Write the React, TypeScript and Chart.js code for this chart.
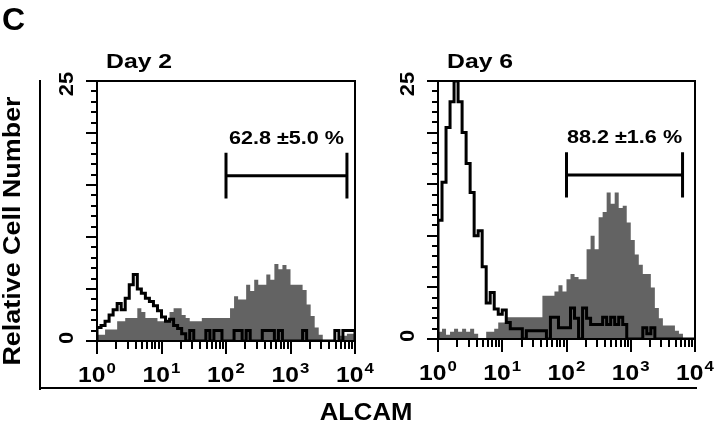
import React, { useEffect, useRef } from "react";
import { Chart, registerables } from "chart.js";

Chart.register(...registerables);

// ---- axis definitions ----
const X_MIN = 1;
const X_MAX = 10000;
const Y_MIN = 0;
const Y_MAX = 25;
const BINS_PER_DECADE = 16;
const DECADE_VALUES = [1, 10, 100, 1000, 10000];
const DECADE_EXPONENTS = ["0", "1", "2", "3", "4"];
const Y_LABELED_TICKS = [0, 25];

// ---- panel titles / gate annotations ----
const PANEL_TITLES = ["Day 2", "Day 6"];
const DAY2_GATE = [100, 7500];
const DAY6_GATE = [100, 6400];
const GATE_LEVEL = 15.9;
const GATE_HALF_HEIGHT = 2.2;
const DAY2_GATE_LABEL = "62.8 \u00b15.0 %";
const DAY6_GATE_LABEL = "88.2 \u00b11.6 %";

// ---- histogram values (64 channels, 16 per decade) ----
const DAY2_ALCAM = [
  0.5, 0.6, 0.6, 1.1, 1.1, 1.1, 1.9, 1.9, 2.2, 2.2,
  2.2, 3.15, 2.8, 2.2, 2.2, 2.2, 1.9, 1.9, 1.9, 2.8,
  3.15, 3.15, 2.5, 2.2, 1.9, 1.9, 1.9, 2.2, 2.2, 2.2,
  2.2, 2.2, 2.2, 2.2, 3.15, 4.3, 4.0, 4.0, 5.4, 4.8,
  5.9, 5.4, 5.4, 6.4, 5.9, 7.4, 6.9, 7.3, 6.9, 5.4,
  5.4, 5.4, 4.9, 3.5, 2.4, 1.3, 0.6, 0, 0, 0,
  0, 0.5, 0.5, 0.7,
];
const DAY2_CONTROL = [
  0.8, 1.3, 1.5, 1.9, 2.5, 3.0, 3.6, 3.0, 4.1, 5.4,
  6.4, 5.0, 4.6, 4.1, 3.8, 3.4, 2.9, 2.3, 1.9, 2.1,
  1.5, 1.2, 0.7, 0, 1.0, 0, 0, 0, 1.0, 0,
  1.0, 1.0, 0, 0, 0, 1.0, 1.0, 0, 1.0, 0,
  0, 0, 1.0, 1.0, 1.0, 0, 1.0, 0, 0, 0,
  0, 0, 1.0, 0, 0, 0, 0, 0, 0, 0,
  1.0, 0, 1.0, 1.0,
];
const DAY6_ALCAM = [
  0, 0.7, 1.0, 0.4, 0.7, 1.0, 0.7, 1.0, 0.7, 1.0,
  0.5, 0, 0, 0.7, 0.7, 1.0, 1.6, 1.6, 2.1, 2.1,
  2.1, 2.1, 2.1, 2.1, 2.1, 2.1, 2.1, 4.2, 4.2, 4.2,
  4.6, 5.2, 4.6, 5.8, 6.3, 6.0, 5.8, 5.8, 8.7, 10.0,
  8.7, 11.8, 12.3, 14.2, 13.1, 14.2, 12.7, 12.9, 11.3, 9.6,
  8.2, 7.2, 6.3, 6.3, 5.0, 3.0, 2.0, 1.3, 1.3, 1.3,
  0.8, 0.5, 0, 0,
];
const DAY6_CONTROL = [
  8.8, 11.5, 15.2, 20.5, 23.0, 25.0, 23.0, 20.0, 17.0, 14.2,
  10.0, 10.5, 7.0, 3.5, 4.5, 2.9, 2.4, 2.8, 1.6, 1.0,
  1.0, 1.0, 0, 0.8, 0.8, 0.8, 0.8, 0.8, 0, 2.1,
  2.1, 1.1, 1.1, 1.1, 3.0, 2.0, 0, 3.0, 2.0, 1.4,
  1.4, 1.4, 2.1, 1.4, 2.1, 1.4, 2.1, 1.4, 0, 0,
  0, 0, 1.1, 0.5, 1.1, 0, 0, 0, 0, 0,
  0, 0, 0, 0,
];

const GRAY = "#636363";
const FONT = '"Liberation Sans", Arial, Helvetica, sans-serif';

const binEdge = (i: number) => Math.pow(10, i / BINS_PER_DECADE);

function toSteps(values: number[]) {
  const n = values.length;
  const pts = [{ x: binEdge(0), y: 0 }];
  values.forEach((v, i) => pts.push({ x: binEdge(i), y: v }));
  pts.push({ x: binEdge(n), y: values[n - 1] });
  pts.push({ x: binEdge(n), y: 0 });
  return pts;
}

function stretchedText(
  ctx: CanvasRenderingContext2D,
  text: string,
  x: number,
  y: number,
  size: number,
  stretch: number,
  align: CanvasTextAlign,
  rotate = 0,
  baseline: CanvasTextBaseline = "alphabetic"
) {
  ctx.save();
  ctx.translate(x, y);
  if (rotate) ctx.rotate(rotate);
  ctx.scale(stretch, 1);
  ctx.font = `bold ${size}px ${FONT}`;
  ctx.textAlign = align;
  ctx.textBaseline = baseline;
  ctx.fillStyle = "#000";
  ctx.fillText(text, 0, 0);
  ctx.restore();
}

function panelPlugin(title: string, gate: number[], gateLabel: string) {
  return {
    id: "panelDecor",
    afterDatasetsDraw(chart: any) {
      const ctx: CanvasRenderingContext2D = chart.ctx;
      const { left, right, top, bottom } = chart.chartArea;
      const xs = chart.scales.x;
      const ys = chart.scales.y;
      ctx.save();
      ctx.strokeStyle = "#000";
      ctx.lineWidth = 2;
      ctx.lineCap = "butt";
      // frame
      ctx.strokeRect(left, top, right - left, bottom - top);
      // y ticks
      for (let v = Y_MIN; v <= Y_MAX; v++) {
        const py = Math.round(ys.getPixelForValue(v));
        const len = v % 5 === 0 ? 11 : 6;
        ctx.beginPath();
        ctx.moveTo(left, py);
        ctx.lineTo(left - len, py);
        ctx.stroke();
      }
      // x ticks
      for (let d = 0; d < DECADE_VALUES.length; d++) {
        const base = DECADE_VALUES[d];
        const mults = d === DECADE_VALUES.length - 1 ? [1] : [1, 2, 3, 4, 5, 6, 7, 8, 9];
        for (const m of mults) {
          const px = Math.round(xs.getPixelForValue(base * m));
          const len = m === 1 ? 13 : 8;
          ctx.beginPath();
          ctx.moveTo(px, bottom);
          ctx.lineTo(px, bottom + len);
          ctx.stroke();
        }
      }
      // x tick labels: 10^n
      DECADE_VALUES.forEach((val, i) => {
        const px = xs.getPixelForValue(val);
        const s = 1.12;
        ctx.font = `bold 22px ${FONT}`;
        const w1 = ctx.measureText("10").width * s;
        ctx.font = `bold 15px ${FONT}`;
        const w2 = ctx.measureText(DECADE_EXPONENTS[i]).width * s;
        const total = w1 + 1 + w2;
        const x0 = px - total / 2;
        stretchedText(ctx, "10", x0, bottom + 41, 22, s, "left");
        stretchedText(ctx, DECADE_EXPONENTS[i], x0 + w1 + 1, bottom + 32, 15, s, "left");
      });
      // y tick labels (rotated)
      Y_LABELED_TICKS.forEach((v) => {
        const py = ys.getPixelForValue(v) + (v === Y_MAX ? 3 : -3);
        stretchedText(ctx, String(v), left - 30, py, 20, 1.1, "center", -Math.PI / 2, "middle");
      });
      // title
      stretchedText(ctx, title, left + 9, top - 13, 21, 1.18, "left");
      // gate bracket
      const gx1 = xs.getPixelForValue(gate[0]);
      const gx2 = xs.getPixelForValue(gate[1]);
      const gy = ys.getPixelForValue(GATE_LEVEL);
      const gTop = ys.getPixelForValue(GATE_LEVEL + GATE_HALF_HEIGHT);
      const gBot = ys.getPixelForValue(GATE_LEVEL - GATE_HALF_HEIGHT);
      ctx.lineWidth = 3;
      ctx.beginPath();
      ctx.moveTo(gx1, gTop);
      ctx.lineTo(gx1, gBot);
      ctx.moveTo(gx2, gTop);
      ctx.lineTo(gx2, gBot);
      ctx.moveTo(gx1, gy);
      ctx.lineTo(gx2, gy);
      ctx.stroke();
      stretchedText(ctx, gateLabel, (gx1 + gx2) / 2, gTop - 9, 18, 1.2, "center");
      ctx.restore();
    },
  };
}

function makeChart(
  canvas: HTMLCanvasElement,
  alcam: number[],
  control: number[],
  padding: { left: number; right: number; top: number; bottom: number },
  title: string,
  gate: number[],
  gateLabel: string
) {
  return new Chart(canvas, {
    type: "line",
    data: {
      datasets: [
        {
          label: "ALCAM",
          data: toSteps(alcam),
          stepped: "after",
          fill: "origin",
          backgroundColor: GRAY,
          borderColor: "rgba(0,0,0,0)",
          borderWidth: 0,
          pointRadius: 0,
          order: 2,
        },
        {
          label: "Control",
          data: toSteps(control),
          stepped: "after",
          fill: false,
          borderColor: "#000",
          borderWidth: 3,
          borderJoinStyle: "miter",
          pointRadius: 0,
          order: 1,
        },
      ],
    } as any,
    options: {
      animation: false,
      responsive: false,
      devicePixelRatio: 1,
      events: [],
      layout: { padding },
      scales: {
        x: { type: "logarithmic", min: X_MIN, max: X_MAX, display: false },
        y: { type: "linear", min: Y_MIN, max: Y_MAX, display: false },
      },
      plugins: { legend: { display: false }, tooltip: { enabled: false } },
    } as any,
    plugins: [panelPlugin(title, gate, gateLabel)],
  });
}

export default function App() {
  const leftRef = useRef<HTMLCanvasElement>(null);
  const rightRef = useRef<HTMLCanvasElement>(null);

  useEffect(() => {
    document.body.style.margin = "0";
    const c1 = makeChart(
      leftRef.current!,
      DAY2_ALCAM,
      DAY2_CONTROL,
      { left: 97, right: 720 - 355, top: 81, bottom: 425 - 341 },
      PANEL_TITLES[0],
      DAY2_GATE,
      DAY2_GATE_LABEL
    );
    const c2 = makeChart(
      rightRef.current!,
      DAY6_ALCAM,
      DAY6_CONTROL,
      { left: 438, right: 720 - 695, top: 81, bottom: 425 - 339 },
      PANEL_TITLES[1],
      DAY6_GATE,
      DAY6_GATE_LABEL
    );
    return () => {
      c1.destroy();
      c2.destroy();
    };
  }, []);

  const abs: React.CSSProperties = { position: "absolute", left: 0, top: 0 };
  return (
    <div
      style={{
        position: "absolute",
        left: 0,
        top: 0,
        width: 720,
        height: 425,
        background: "#fff",
        overflow: "hidden",
        fontFamily: FONT,
        fontWeight: "bold",
        color: "#000",
      }}
    >
      <canvas ref={leftRef} width={720} height={425} style={abs} />
      <canvas ref={rightRef} width={720} height={425} style={abs} />
      <div style={{ position: "absolute", left: 2, top: 3, fontSize: 32, lineHeight: "32px" }}>C</div>
      <div
        style={{
          position: "absolute",
          left: 12,
          top: 231,
          fontSize: 23,
          lineHeight: "23px",
          whiteSpace: "nowrap",
          transform: "translate(-50%, -50%) rotate(-90deg) scaleX(1.17)",
        }}
      >
        Relative Cell Number
      </div>
      <div
        style={{
          position: "absolute",
          left: 366,
          top: 400,
          fontSize: 24,
          lineHeight: "24px",
          whiteSpace: "nowrap",
          transform: "translateX(-50%) scaleX(1.07)",
        }}
      >
        ALCAM
      </div>
      <div style={{ position: "absolute", left: 39, top: 80, width: 2, height: 310, background: "#000" }} />
      <div style={{ position: "absolute", left: 39, top: 387, width: 658, height: 2, background: "#000" }} />
    </div>
  );
}
